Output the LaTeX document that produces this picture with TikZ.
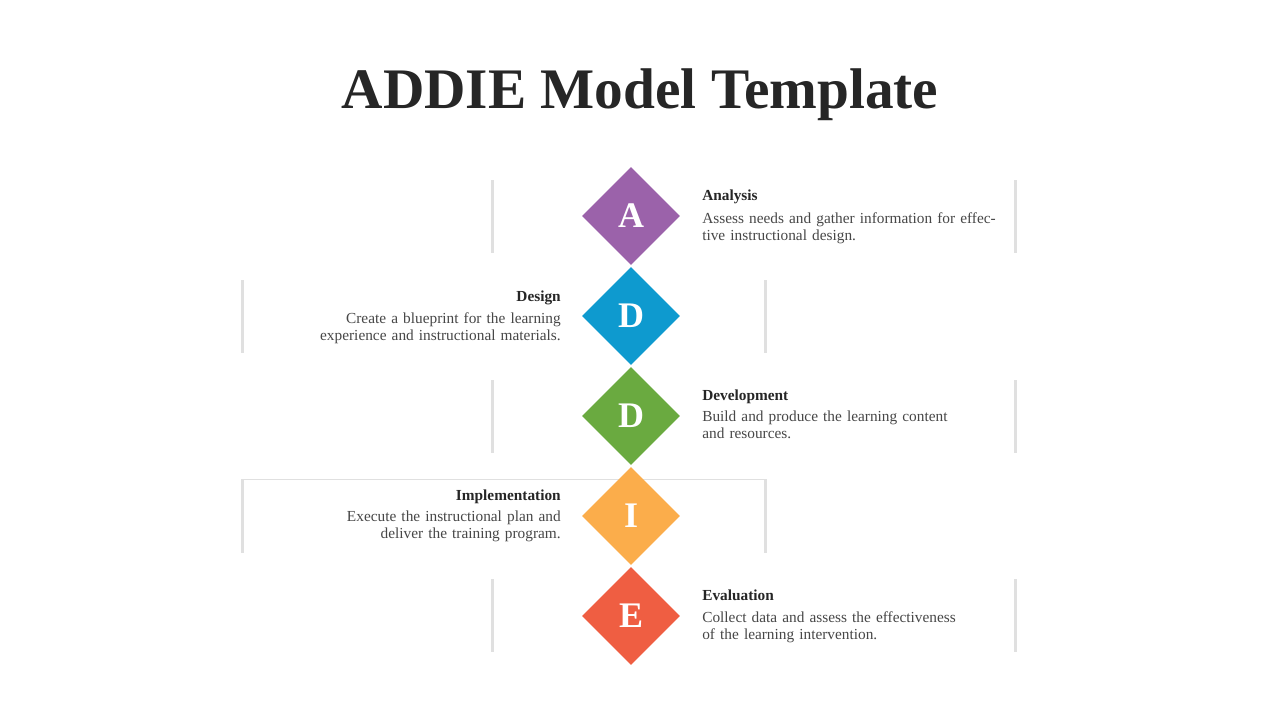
\documentclass[tikz,border=0pt]{standalone}
\usepackage{fontspec}
\setmainfont{Liberation Serif}
\usetikzlibrary{shapes.geometric,shadows}
\definecolor{cA}{HTML}{9B62AA}
\definecolor{cB}{HTML}{0E9ACF}
\definecolor{cC}{HTML}{6AAA40}
\definecolor{cD}{HTML}{FBAD4B}
\definecolor{cE}{HTML}{EF5E42}
\definecolor{ink}{HTML}{262626}
\tikzset{
    card/.style={fill=white,minimum width=390pt,minimum height=54.75pt,inner sep=0pt,
        general shadow={fill=black,opacity=0.12,shadow xshift=0pt,shadow yshift=0pt,shadow scale=1.01}},
    gem/.style={diamond,fill=#1,minimum width=73.5pt,minimum height=73.5pt,inner sep=0pt,
        text=white,font=\bfseries\fontsize{27}{27}\selectfont},
    head/.style={font=\bfseries\fontsize{11.5}{13}\selectfont,text=ink,inner sep=0pt},
    body/.style={font=\fontsize{11.5}{12.75}\selectfont,text=ink!85,inner sep=0pt,text width=230pt,align=#1},
    body/.default=left
}
\begin{document}
\begin{tikzpicture}[x=0.75pt,y=-0.75pt]
            \useasboundingbox (0,0) rectangle (1280,720);
            \node[font=\bfseries\fontsize{43}{43}\selectfont,text=ink] (title) at (640,95) {ADDIE Model Template};
            % cards
            \node[card] (c1) at (754,216.5) {};
            \node[card] (c2) at (504,316.5) {};
            \node[card] (c3) at (754,416.5) {};
            \node[card] (c4) at (504,516) {};
            \node[card] (c5) at (754,615.5) {};
            % diamonds
            \node[gem=cA] (d1) at (631,216) {A};
            \node[gem=cB] (d2) at (631,316) {D};
            \node[gem=cC] (d3) at (631,416) {D};
            \node[gem=cD] (d4) at (631,516) {I};
            \node[gem=cE] (d5) at (631,616) {E};
            % texts
            \node[head,anchor=base west] (h1) at (702,201) {Analysis};
            \node[body,anchor=north west] (t1) at (702,212) {Assess needs and gather information for effective instructional design.};
            \node[head,anchor=base east] (h2) at (561,301) {Design};
            \node[body=right,anchor=north east] (t2) at (561,312) {Create a blueprint for the learning\\experience and instructional materials.};
            \node[head,anchor=base west] (h3) at (702,400) {Development};
            \node[body,anchor=north west] (t3) at (702,411) {Build and produce the learning content\\and resources.};
            \node[head,anchor=base east] (h4) at (561,500) {Implementation};
            \node[body=right,anchor=north east] (t4) at (561,511) {Execute the instructional plan and\\deliver the training program.};
            \node[head,anchor=base west] (h5) at (702,600) {Evaluation};
            \node[body,anchor=north west] (t5) at (702,611) {Collect data and assess the effectiveness\\of the learning intervention.};
\end{tikzpicture}
\end{document}
